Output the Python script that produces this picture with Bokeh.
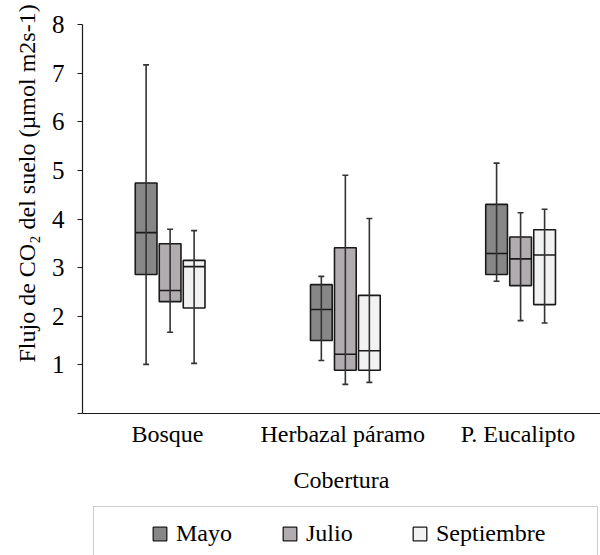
from bokeh.plotting import figure
from bokeh.layouts import column
from bokeh.models import (FixedTicker, Legend, LegendItem, Title, BoxAnnotation,
                          ColumnDataSource, Range1d)
from bokeh.embed import file_html
from bokeh.resources import INLINE

categories = ["Bosque", "Herbazal páramo", "P. Eucalipto"]
months = ["Mayo", "Julio", "Septiembre"]

# one list per month, values per category (Bosque, Herbazal páramo, P. Eucalipto)
low_mayo = [1.01, 1.09, 2.72]
q1_mayo = [2.86, 1.50, 2.86]
med_mayo = [3.72, 2.14, 3.29]
q3_mayo = [4.74, 2.65, 4.30]
high_mayo = [7.17, 2.82, 5.15]

low_julio = [1.67, 0.60, 1.91]
q1_julio = [2.30, 0.89, 2.63]
med_julio = [2.53, 1.22, 3.18]
q3_julio = [3.49, 3.41, 3.63]
high_julio = [3.79, 4.90, 4.13]

low_sept = [1.03, 0.64, 1.86]
q1_sept = [2.17, 0.89, 2.24]
med_sept = [3.02, 1.29, 3.26]
q3_sept = [3.15, 2.43, 3.78]
high_sept = [3.76, 4.01, 4.20]

y_ticks = [0, 1, 2, 3, 4, 5, 6, 7, 8]

stats = {
    "Mayo": (low_mayo, q1_mayo, med_mayo, q3_mayo, high_mayo),
    "Julio": (low_julio, q1_julio, med_julio, q3_julio, high_julio),
    "Septiembre": (low_sept, q1_sept, med_sept, q3_sept, high_sept),
}
fills = {"Mayo": "#878787", "Julio": "#b1acaf", "Septiembre": "#f2f2f2"}
offsets = {"Mayo": -0.137, "Julio": 0.0, "Septiembre": 0.137}
box_w = 0.124
cap_half = 0.017
FONT = "Liberation Serif"
EDGE = "#1a1a1a"
WHISK = "#333333"

p = figure(width=600, height=500, output_backend="svg", toolbar_location=None,
           x_range=(-0.5, 2.456), y_range=(0, 8),
           min_border_left=82, min_border_right=0, min_border_top=24, min_border_bottom=87)
p.outline_line_color = None
p.xgrid.grid_line_color = None
p.ygrid.grid_line_color = None

sources = {}
for m in months:
    lo, a, md, b, hi = stats[m]
    xs = [i + offsets[m] for i in range(len(categories))]
    src = ColumnDataSource(dict(x=xs, lo=lo, q1=a, med=md, q3=b, hi=hi,
                                x0=[x - box_w / 2 for x in xs], x1=[x + box_w / 2 for x in xs],
                                c0=[x - cap_half for x in xs], c1=[x + cap_half for x in xs]))
    sources[m] = src
    p.vbar(x="x", width=box_w, bottom="q1", top="q3", source=src,
           fill_color=fills[m], line_color=EDGE, line_width=1.6)
    p.segment(x0="x0", x1="x1", y0="med", y1="med", source=src, line_color=EDGE, line_width=1.6)
    p.segment(x0="x", x1="x", y0="lo", y1="hi", source=src, line_color=WHISK, line_width=1.6)
    p.segment(x0="c0", x1="c1", y0="hi", y1="hi", source=src, line_color=WHISK, line_width=1.6)
    p.segment(x0="c0", x1="c1", y0="lo", y1="lo", source=src, line_color=WHISK, line_width=1.6)

# x axis
xt = [i - 0.015 for i in range(len(categories))]
p.xaxis.ticker = FixedTicker(ticks=xt)
p.xaxis.major_label_overrides = {t: c for t, c in zip(xt, categories)}
p.xaxis.major_tick_line_color = None
p.xaxis.minor_tick_line_color = None
p.xaxis.major_tick_out = 0
p.xaxis.major_label_standoff = 7
p.xaxis.axis_line_color = EDGE
p.xaxis.axis_line_width = 1.2
p.xaxis.major_label_text_font = FONT
p.xaxis.major_label_text_font_size = "24px"
p.xaxis.major_label_text_color = "black"
p.xaxis.axis_label = "Cobertura"
p.xaxis.axis_label_text_font = FONT
p.xaxis.axis_label_text_font_size = "24px"
p.xaxis.axis_label_text_font_style = "normal"
p.xaxis.axis_label_text_color = "black"
p.xaxis.axis_label_standoff = 17

# y axis
p.yaxis.ticker = FixedTicker(ticks=y_ticks)
p.yaxis.major_label_overrides = {0: ""}
p.yaxis.minor_tick_line_color = None
p.yaxis.major_tick_out = 5
p.yaxis.major_tick_in = 0
p.yaxis.major_tick_line_color = EDGE
p.yaxis.axis_line_color = EDGE
p.yaxis.axis_line_width = 1.2
p.yaxis.major_label_standoff = 13
p.yaxis.major_label_text_font = FONT
p.yaxis.major_label_text_font_size = "25px"
p.yaxis.major_label_text_color = "black"

p.add_layout(Title(text="Flujo de CO₂ del suelo (µmol m2s-1)", align="left", offset=51,
                   text_font=FONT, text_font_size="24px", text_font_style="normal",
                   text_color="black", standoff=18), "left")

# legend strip below the chart; its frame is aligned with the chart frame (page x 82..600).
# Reversed x range and a y range above the data keep the swatch renderers' rows off-frame.
lg = figure(width=600, height=55, output_backend="svg", toolbar_location=None,
            x_range=Range1d(600, 82), y_range=Range1d(55, 110),
            x_axis_type=None, y_axis_type=None,
            min_border_left=0, min_border_right=0, min_border_top=0, min_border_bottom=0)
lg.outline_line_color = None
lg.xgrid.grid_line_color = None
lg.ygrid.grid_line_color = None
items = []
for m in months:
    r = lg.vbar(x="x", width=box_w, bottom="q1", top="q3", source=sources[m],
                fill_color=fills[m], line_color=EDGE, line_width=1.3)
    items.append(LegendItem(label=m, renderers=[r]))
legend = Legend(items=items, orientation="horizontal", location=(69, 8), padding=0, spacing=0,
                margin=0, glyph_width=17, glyph_height=17, label_standoff=8,
                label_width=105, border_line_color=None, background_fill_alpha=0,
                label_text_font=FONT, label_text_font_size="24px", label_text_color="black")
lg.add_layout(legend, "center")
lg.add_layout(BoxAnnotation(left=589, right=85, top=104, bottom=45,
                            fill_color=None, fill_alpha=0, line_color="#555555", line_width=1))

layout = column(p, lg, spacing=0)
open("out.html", "w").write(file_html(layout, INLINE))
